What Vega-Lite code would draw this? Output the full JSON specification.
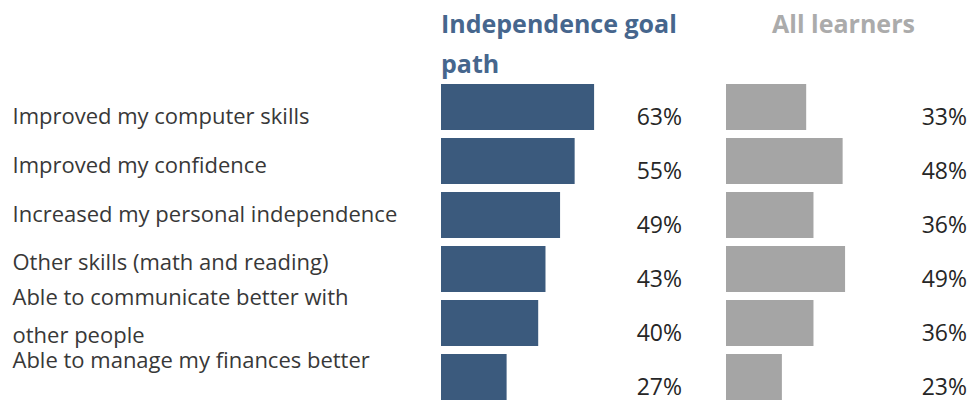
{
  "$schema": "https://vega.github.io/schema/vega-lite/v6.json",
  "padding": {"top": 13, "left": 0, "right": 0, "bottom": 0},
  "spacing": 42,
  "bounds": "flush",
  "config": {"view": {"stroke": null}, "font": "Open Sans"},
  "data": {"values": [
    {"item": "Improved my computer skills", "indep": 0.63, "all": 0.33},
    {"item": "Improved my confidence", "indep": 0.55, "all": 0.48},
    {"item": "Increased my personal independence", "indep": 0.49, "all": 0.36},
    {"item": "Other skills (math and reading)", "indep": 0.43, "all": 0.49},
    {"item": "Able to communicate better with\nother people", "indep": 0.40, "all": 0.36},
    {"item": "Able to manage my finances better", "indep": 0.27, "all": 0.23}
  ]},
  "hconcat": [
    {
      "width": 399,
      "height": 316,
      "title": {"text": [" ", " "], "fontSize": 25, "lineHeight": 40, "offset": 6},
      "mark": {"type": "rect", "opacity": 0},
      "encoding": {
        "y": {
          "field": "item", "type": "nominal", "sort": null,
          "scale": {"paddingInner": 0, "paddingOuter": 0.25},
          "axis": {
            "title": null, "domain": false, "ticks": false,
            "labelAlign": "left", "labelPadding": -12, "labelFontSize": 22,
            "labelColor": "#383838", "labelLimit": 0,
            "labelExpr": "split(datum.label, '\\n')", "labelLineHeight": 38,
            "labelOffset": {"condition": {"test": "indexof(datum.value, '\\n') >= 0", "value": -17}, "value": -3},
            "labelBaseline": "middle"
          }
        }
      }
    },
    {
      "width": 243,
      "height": 316,
      "title": {"text": ["Independence goal", "path"], "anchor": "start", "fontSize": 25, "fontWeight": "bold", "color": "#46668D", "lineHeight": 40, "offset": 6},
      "encoding": {
        "y": {"field": "item", "type": "nominal", "sort": null, "axis": null, "scale": {"paddingInner": 0.148, "paddingOuter": 0}}
      },
      "layer": [
        {
          "mark": {"type": "bar", "color": "#3B5A7D"},
          "encoding": {"x": {"field": "indep", "type": "quantitative", "scale": {"domain": [0, 1]}, "axis": null}}
        },
        {
          "mark": {"type": "text", "align": "right", "baseline": "middle", "dy": 11, "dx": -2, "fontSize": 23, "color": "#262626"},
          "encoding": {
            "x": {"datum": 1, "type": "quantitative"},
            "text": {"field": "indep", "type": "quantitative", "format": ".0%"}
          }
        }
      ]
    },
    {
      "width": 243,
      "height": 316,
      "title": {"text": ["All learners", " "], "anchor": "middle", "dx": -4, "fontSize": 25, "fontWeight": "bold", "color": "#ABABAB", "lineHeight": 40, "offset": 6},
      "encoding": {
        "y": {"field": "item", "type": "nominal", "sort": null, "axis": null, "scale": {"paddingInner": 0.148, "paddingOuter": 0}}
      },
      "layer": [
        {
          "mark": {"type": "bar", "color": "#A5A5A5"},
          "encoding": {"x": {"field": "all", "type": "quantitative", "scale": {"domain": [0, 1]}, "axis": null}}
        },
        {
          "mark": {"type": "text", "align": "right", "baseline": "middle", "dy": 11, "dx": -2, "fontSize": 23, "color": "#262626"},
          "encoding": {
            "x": {"datum": 1, "type": "quantitative"},
            "text": {"field": "all", "type": "quantitative", "format": ".0%"}
          }
        }
      ]
    }
  ]
}
